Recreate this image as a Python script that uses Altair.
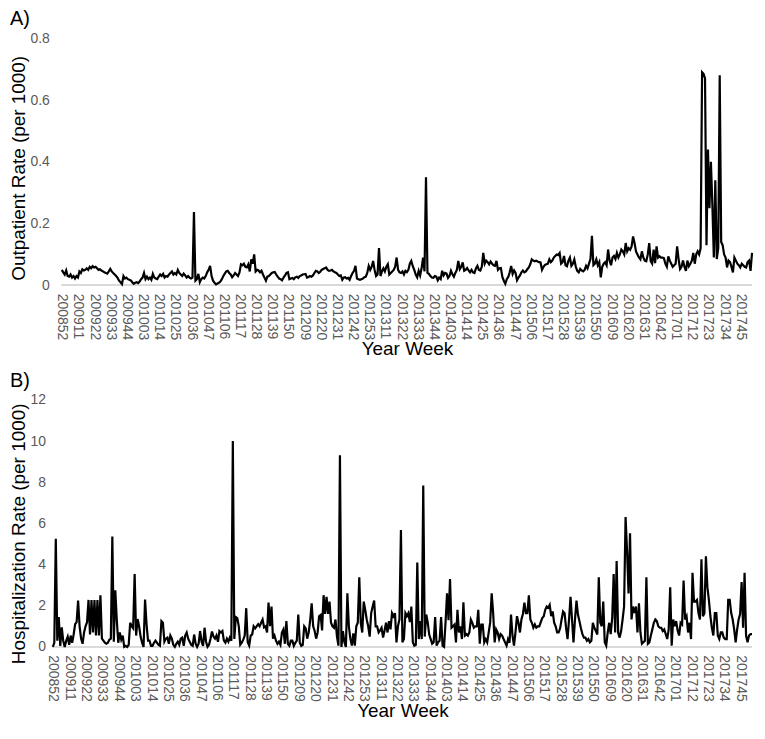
import altair as alt
import pandas as pd

# ---- categories (year-week codes) ----
start_week = "200852"
years = [2009, 2010, 2011, 2012, 2013, 2014, 2015, 2016, 2017]
weeks_per_year = [52, 52, 52, 53, 52, 52, 52, 52, 52]
end_weeks = ["201801"]

weeks = [start_week]
for y, n in zip(years, weeks_per_year):
    weeks += [f"{y}{w:02d}" for w in range(1, n + 1)]
weeks += end_weeks
tick_labels = weeks[::11]

# ---- A) outpatient rate (per 1000) ----
outpatient_rate = [
    0.05, 0.042, 0.035, 0.048, 0.03, 0.028, 0.035, 0.025, 0.03, 0.022, 0.03,
    0.025, 0.045, 0.04, 0.052, 0.048, 0.05, 0.055, 0.05, 0.06, 0.055, 0.062,
    0.058, 0.06, 0.055, 0.05, 0.052, 0.048, 0.045, 0.042, 0.04, 0.038, 0.045,
    0.053, 0.045, 0.04, 0.035, 0.03, 0.024, 0.015, 0.01, 0.004, 0.03, 0.022,
    0.025, 0.02, 0.018, 0.016, 0.01, 0.005, 0.008, 0.01, 0.007, 0.012, 0.02,
    0.025, 0.04, 0.02, 0.028, 0.02, 0.025, 0.018, 0.037, 0.025, 0.022, 0.02,
    0.028, 0.035, 0.03, 0.037, 0.025, 0.03, 0.028, 0.035, 0.04, 0.045, 0.035,
    0.04, 0.035, 0.05, 0.04, 0.035, 0.03, 0.038, 0.032, 0.025, 0.03, 0.025,
    0.022, 0.025, 0.237, 0.015, 0.02, 0.037, 0.01, 0.02, 0.025, 0.022, 0.03,
    0.042, 0.05, 0.063, 0.03, 0.015, 0.008, 0.003, 0.006, 0.008, 0.012, 0.02,
    0.03, 0.038, 0.045, 0.047, 0.04, 0.035, 0.026, 0.032, 0.04, 0.035, 0.03,
    0.042, 0.068, 0.065, 0.07, 0.06, 0.058, 0.068, 0.045, 0.084, 0.07, 0.1,
    0.045, 0.05, 0.048, 0.042, 0.047, 0.035, 0.025, 0.015, 0.028, 0.03, 0.035,
    0.04, 0.042, 0.043, 0.035, 0.028, 0.022, 0.02, 0.016, 0.025, 0.032, 0.04,
    0.042, 0.02, 0.022, 0.024, 0.02, 0.026, 0.028, 0.024, 0.03, 0.032, 0.035,
    0.036, 0.037, 0.025, 0.027, 0.03, 0.028, 0.032, 0.04, 0.047, 0.045, 0.04,
    0.044, 0.05, 0.053, 0.055, 0.058, 0.05, 0.047, 0.048, 0.05, 0.045, 0.042,
    0.04, 0.035, 0.03, 0.032, 0.018, 0.025, 0.026, 0.022, 0.024, 0.018, 0.03,
    0.04, 0.047, 0.063, 0.022, 0.02, 0.018, 0.02, 0.022, 0.026, 0.028, 0.04,
    0.063, 0.05, 0.06, 0.079, 0.05, 0.03, 0.035, 0.121, 0.03, 0.045, 0.055,
    0.045, 0.06, 0.068, 0.035, 0.04, 0.045, 0.05, 0.06, 0.09, 0.05, 0.042,
    0.04, 0.045, 0.035, 0.047, 0.043, 0.05, 0.07, 0.079, 0.062, 0.05, 0.035,
    0.026, 0.047, 0.032, 0.055, 0.09, 0.045, 0.35, 0.04, 0.037, 0.03, 0.025,
    0.024, 0.03, 0.028, 0.016, 0.025, 0.02, 0.047, 0.032, 0.04, 0.038, 0.024,
    0.03, 0.047, 0.036, 0.028, 0.04, 0.05, 0.079, 0.052, 0.06, 0.074, 0.047,
    0.05, 0.056, 0.048, 0.042, 0.05, 0.042, 0.04, 0.055, 0.063, 0.05, 0.048,
    0.06, 0.105, 0.07, 0.08, 0.075, 0.068, 0.077, 0.07, 0.065, 0.063, 0.079,
    0.05, 0.055, 0.056, 0.027, 0.015, 0.005, 0.02, 0.027, 0.042, 0.063, 0.037,
    0.048, 0.04, 0.016, 0.025, 0.032, 0.042, 0.048, 0.042, 0.045, 0.052, 0.058,
    0.068, 0.084, 0.08, 0.078, 0.08, 0.077, 0.075, 0.074, 0.05, 0.06, 0.066,
    0.068, 0.07, 0.084, 0.075, 0.08, 0.09, 0.095, 0.1, 0.098, 0.105, 0.07,
    0.075, 0.095, 0.065, 0.062, 0.08, 0.09, 0.063, 0.07, 0.084, 0.06, 0.047,
    0.042, 0.053, 0.048, 0.045, 0.05, 0.063, 0.055, 0.07, 0.085, 0.16, 0.065,
    0.07, 0.084, 0.065, 0.075, 0.026, 0.06, 0.07, 0.075, 0.065, 0.116, 0.08,
    0.065, 0.09, 0.095, 0.085, 0.105, 0.09, 0.1, 0.116, 0.11, 0.1, 0.137,
    0.11, 0.12, 0.115, 0.126, 0.158, 0.137, 0.11, 0.1, 0.09, 0.084, 0.11,
    0.09, 0.08, 0.078, 0.1, 0.137, 0.078, 0.07, 0.116, 0.072, 0.126, 0.09,
    0.094, 0.09, 0.09, 0.088, 0.07, 0.06, 0.094, 0.08, 0.07, 0.06, 0.065,
    0.07, 0.126, 0.085, 0.053, 0.06, 0.08, 0.06, 0.047, 0.08, 0.062, 0.07,
    0.08, 0.105, 0.07, 0.1, 0.11, 0.1, 0.12, 0.69, 0.685, 0.67, 0.13,
    0.44, 0.25, 0.40, 0.26, 0.09, 0.34, 0.085, 0.12, 0.68, 0.14, 0.13,
    0.1, 0.09, 0.058, 0.08, 0.075, 0.06, 0.042, 0.09, 0.08, 0.07, 0.065,
    0.058, 0.07, 0.065, 0.06, 0.058, 0.075, 0.08, 0.047, 0.105,
]

# ---- B) hospitalization rate (per 1000) ----
hospitalization_rate = [
    0.0, 0.2, 5.25, 0.3, 1.45, 0.05, 0.95, 0.3, 0.0, 0.3, 0.5,
    0.1, 0.55, 0.2, 0.6, 1.1, 1.2, 2.25, 1.0, 0.4, 0.15, 0.7,
    1.0, 1.2, 2.28, 0.6, 2.28, 0.7, 2.28, 0.55, 2.28, 0.55, 2.5,
    0.4, 0.3, 0.2, 0.15, 0.2, 0.35, 0.4, 5.36, 0.25, 2.75, 1.3,
    0.2, 0.7, 0.35, 0.55, 0.0, 0.05, 0.0, 0.1, 1.17, 1.0, 0.9,
    3.54, 0.55, 1.35, 1.0, 0.5, 0.2, 0.0, 2.3, 1.1, 0.3, 0.3,
    0.05, 0.05, 0.2, 0.3, 0.2, 0.1, 0.05, 1.25, 1.17, 0.25, 0.4,
    0.45, 0.15, 0.55, 0.4, 0.1, 0.0, 0.15, 0.25, 0.1, 0.4, 0.45,
    0.05, 0.55, 0.7, 0.4, 0.25, 0.1, 0.05, 0.6, 0.15, 0.0, 0.15,
    0.77, 0.25, 0.05, 0.93, 0.25, 0.0, 0.1, 0.4, 0.75, 0.5, 0.4,
    0.55, 0.25, 0.77, 0.7, 0.77, 0.3, 0.2, 0.4, 0.25, 0.45, 0.3,
    10.0, 0.38, 1.45, 1.4, 1.0, 0.1, 0.2, 0.35, 0.55, 1.88, 0.22,
    0.06, 0.55, 0.6, 1.0, 0.9, 1.0, 1.1, 1.0, 1.17, 1.33, 0.95,
    1.0, 0.7, 2.15, 1.0, 1.96, 0.4, 0.55, 0.3, 0.15, 0.25, 0.1,
    0.7, 0.85, 0.15, 1.25, 0.15, 0.05, 0.3, 0.3, 0.05, 0.2, 0.3,
    1.57, 0.2, 0.05, 0.1, 1.0, 0.9, 0.4, 0.7, 1.3, 2.12, 1.0,
    0.77, 0.4, 0.7, 1.49, 1.55, 0.8, 2.51, 1.6, 2.43, 1.6, 2.2,
    1.17, 1.0, 0.93, 1.33, 0.5, 0.06, 9.31, 0.0, 0.77, 0.22, 0.0,
    2.6, 1.0, 0.4, 0.06, 0.65, 0.06, 1.0, 1.17, 3.38, 1.17, 0.7,
    2.2, 1.8, 1.33, 1.0, 0.5, 1.64, 1.96, 2.25, 1.0, 1.0, 0.7,
    0.8, 0.93, 0.45, 0.8, 1.17, 0.7, 1.25, 0.85, 1.64, 1.49, 1.64,
    0.22, 1.0, 1.33, 5.68, 0.22, 0.38, 1.64, 1.5, 1.64, 1.2, 1.96,
    0.22, 0.06, 0.1, 4.1, 0.38, 1.25, 0.38, 7.84, 0.5, 1.57, 1.2,
    0.6, 0.38, 0.15, 0.22, 1.45, 0.06, 0.22, 0.3, 1.45, 0.06, 0.0,
    1.2, 2.6, 1.3, 3.3, 0.93, 1.0, 1.08, 0.22, 1.8, 0.7, 1.0,
    0.38, 2.17, 0.55, 0.62, 0.55, 0.7, 1.33, 1.17, 0.93, 1.0, 1.0,
    1.8, 0.15, 1.08, 1.08, 0.22, 0.38, 0.22, 0.7, 1.2, 2.6, 1.64,
    0.22, 0.85, 0.7, 0.38, 0.62, 0.55, 0.38, 0.22, 0.06, 0.38, 0.2,
    1.57, 0.55, 0.06, 0.7, 1.49, 1.17, 0.7, 1.33, 1.6, 2.15, 1.64,
    1.64, 2.5, 1.33, 1.17, 0.93, 1.09, 0.93, 1.0, 1.0, 1.2, 1.4,
    1.49, 1.8, 1.96, 1.9, 2.04, 1.49, 1.72, 1.17, 1.0, 0.7, 0.7,
    0.9, 1.33, 1.72, 1.64, 0.93, 0.38, 1.33, 2.43, 1.33, 0.22, 1.33,
    2.25, 1.57, 1.25, 0.9, 0.62, 0.45, 0.45, 0.3, 0.38, 0.22, 0.3,
    1.17, 0.93, 0.77, 0.6, 3.38, 1.17, 1.0, 2.2, 0.22, 0.06, 0.7,
    1.17, 0.62, 1.4, 3.54, 0.7, 4.17, 0.7, 0.45, 0.77, 1.33, 1.96,
    6.31, 4.66, 2.6, 5.52, 1.33, 1.96, 1.64, 1.96, 0.7, 2.12, 0.7,
    0.15, 0.22, 0.3, 3.38, 0.15, 0.22, 0.55, 0.85, 1.17, 1.33, 1.25,
    1.0, 0.93, 0.93, 0.77, 0.85, 0.62, 0.38, 0.85, 2.9, 0.06, 1.33,
    1.0, 1.25, 0.8, 0.55, 1.17, 1.09, 3.22, 1.33, 1.49, 0.7, 1.17,
    0.38, 3.6, 2.2, 2.2, 2.28, 1.64, 1.33, 4.25, 1.49, 1.64, 4.4,
    2.9, 2.28, 1.5, 0.93, 0.55, 1.64, 1.64, 0.55, 0.38, 0.7, 0.7,
    0.45, 0.38, 0.38, 2.28, 2.28, 1.64, 1.33, 0.85, 0.22, 0.85, 1.33,
    1.6, 3.15, 0.93, 3.6, 0.55, 0.22, 0.55, 0.62, 0.62,
]

outpatient_ticks = [0, 0.2, 0.4, 0.6, 0.8]
hospitalization_ticks = [0, 2, 4, 6, 8, 10, 12]

FONT = "Liberation Sans"
PLOT_H = 248
PLOT_W = 704
AXIS_GRAY = "#d9d9d9"


def panel(values, letter, y_title, y_ticks, y_format, x_range,
          y_title_pad, y_label_pad, y_title_shift):
    df = pd.DataFrame({"week": weeks, "rate": values})
    x_enc = alt.X(
        "week:O",
        scale=alt.Scale(type="point", domain=weeks, range=x_range, padding=0),
        axis=alt.Axis(
            values=tick_labels, labelAngle=90, labelAlign="left",
            labelBaseline="middle", labelOverlap=False,
            labelFontSize=14, labelColor="#595959", labelFont=FONT,
            labelPadding=8, ticks=False, domain=False, grid=False,
            title="Year Week", titleFontSize=19, titleFontWeight="normal",
            titleFont=FONT, titleColor="#000000", titlePadding=0,
        ),
    )
    y_enc = alt.Y(
        "rate:Q",
        scale=alt.Scale(domain=[y_ticks[0], y_ticks[-1]], nice=False),
        axis=alt.Axis(
            values=y_ticks, format=y_format, domain=False, ticks=False,
            grid=False, labelFontSize=14, labelColor="#595959",
            labelFont=FONT, labelPadding=y_label_pad, title=y_title,
            titleFontSize=19, titleFontWeight="normal", titleFont=FONT,
            titleColor="#000000", titlePadding=y_title_pad,
            titleY=PLOT_H / 2 + y_title_shift,
        ),
    )
    line = alt.Chart(df).mark_line(color="#000000", strokeWidth=2.2).encode(
        x=x_enc, y=y_enc
    )
    # category axis line running from the first to the last week, at zero
    baseline = alt.Chart(df).mark_rule(color=AXIS_GRAY, strokeWidth=1).encode(
        x=alt.X(datum=weeks[0], type="ordinal"),
        x2=alt.X2(datum=weeks[-1]),
        y=alt.Y(datum=y_ticks[0], type="quantitative"),
    )
    return alt.layer(
        baseline, line,
        title=alt.TitleParams(
            text=letter, anchor="start", fontSize=20, fontWeight="normal",
            font=FONT, color="#000000", offset=2,
        ),
    ).properties(width=PLOT_W, height=PLOT_H)


top = panel(outpatient_rate, "A)", "Outpatient Rate (per 1000)",
            outpatient_ticks, ".1~f", [9, 702], 1, 3.5, 6)
bottom = panel(hospitalization_rate, "B)", "Hospitalization Rate (per 1000)",
               hospitalization_ticks, "d", [0, 702], 1, 7.4, 10)

chart = (
    alt.vconcat(top, bottom, spacing=12)
    .properties(
        padding={"left": 2, "top": 0, "right": 0, "bottom": 0},
        background="#ffffff",
    )
    .configure_view(stroke=None)
)

chart.save("out.html", embed_options={"renderer": "svg", "actions": False})
